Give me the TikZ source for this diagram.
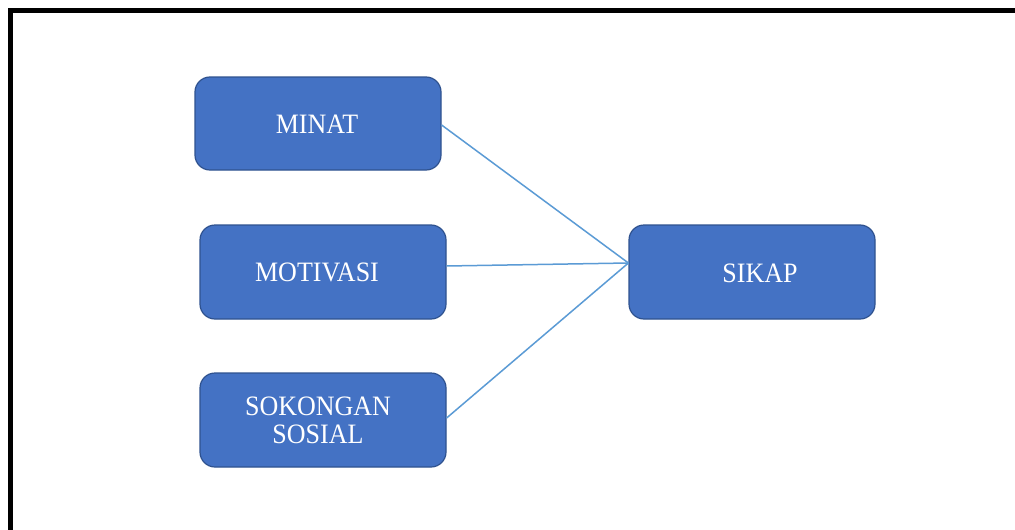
\documentclass[tikz,border=0pt]{standalone}
\usepackage{fontspec}
\setmainfont{Liberation Serif}
\definecolor{boxfill}{HTML}{4472C4}
\definecolor{boxedge}{HTML}{2F528F}
\definecolor{linkblue}{HTML}{5B9BD5}
\tikzset{
  varbox/.style={draw=boxedge, line width=1.2pt, fill=boxfill, rounded corners=15pt, inner sep=0pt},
  vartext/.style={text=white, font=\fontsize{26}{28}\selectfont, align=center, inner sep=0pt},
  link/.style={draw=linkblue, line width=1.5pt}
}
\begin{document}
\begin{tikzpicture}[x=1pt,y=-1pt]
\useasboundingbox (0,0) rectangle (1015,530);
\clip (0,0) rectangle (1015,530);
\fill[white] (0,0) rectangle (1015,530);
\draw[line width=5pt, black] (1030,10.5) -- (10.5,10.5) -- (10.5,545);
% boxes
\node[varbox, minimum width=246pt, minimum height=93pt] (minat) at (318,123.5) {};
\node[varbox, minimum width=246pt, minimum height=94pt] (motivasi) at (323,272) {};
\node[varbox, minimum width=246pt, minimum height=94pt] (sokongan) at (323,420) {};
\node[varbox, minimum width=246pt, minimum height=94pt] (sikap) at (752,272) {};
% texts
\node[vartext] (tminat) at (317,124) {\scalebox{1}[1.08]{MINAT}};
\node[vartext] (tmotivasi) at (317,272) {\scalebox{1}[1.08]{MOTIVASI}};
\node[vartext] (tsokongan) at (318,420) {\scalebox{1}[1.08]{SOKONGAN}\\\scalebox{1}[1.08]{SOSIAL}};
\node[vartext] (tsikap) at (760,273) {\scalebox{1}[1.08]{SIKAP}};
% connectors
\coordinate (join) at ([yshift=9pt]sikap.west);
\coordinate (minatout) at ([yshift=-1.5pt]minat.east);
\coordinate (motout) at ([yshift=6pt]motivasi.east);
\coordinate (sokout) at ([yshift=2pt]sokongan.east);
\draw[link] (minatout) -- (join);
\draw[link] (motout) -- (join);
\draw[link] (sokout) -- (join);
\end{tikzpicture}
\end{document}
